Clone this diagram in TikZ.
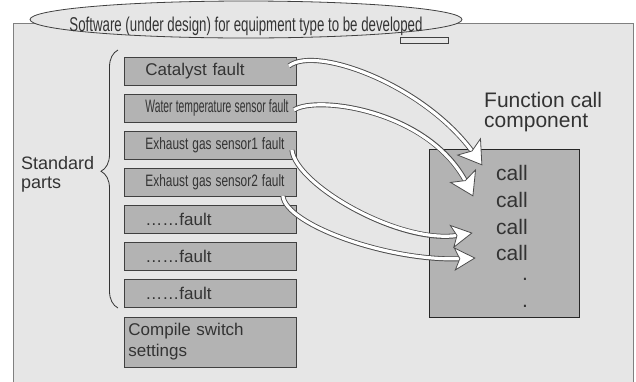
\documentclass[tikz,border=0pt]{standalone}
\usepackage{fontspec}
\usepackage{graphicx}
\setmainfont{Liberation Sans}
\usetikzlibrary{calc,shapes.geometric,decorations.pathreplacing,decorations.markings}

\definecolor{panelgray}{HTML}{E6E6E6}
\definecolor{boxgray}{HTML}{B3B3B3}
\definecolor{inkgray}{HTML}{333333}
\definecolor{edgegray}{HTML}{404040}
\definecolor{framegray}{HTML}{808080}
\definecolor{arrowline}{HTML}{4D4D4D}

% squeeze a text horizontally to a given width, keeping its height
\newcommand\squeezeto[3]{\resizebox{#1}{\height}{\fontsize{#2}{#2}\selectfont #3}}

\begin{document}
\begin{tikzpicture}[x=1bp,y=-1bp,
  every node/.style={text=inkgray},
  faultbox/.style={draw=edgegray, line width=0.9bp, fill=boxgray,
    minimum height=28bp, inner xsep=0pt, inner ysep=0pt, text width=172bp,
    align=left, anchor=west, font=\fontsize{17bp}{20bp}\selectfont,
    execute at begin node={\hspace*{21bp}}},
  settingbox/.style={draw=edgegray, line width=0.9bp, fill=boxgray,
    minimum height=50bp, inner xsep=4bp, text width=164bp,
    align=left, anchor=west, font=\fontsize{17bp}{21bp}\selectfont},
  calltext/.style={anchor=west, inner sep=0pt, font=\fontsize{21bp}{21bp}\selectfont},
  hollowhead/.style n args={2}{
    decoration={markings, mark=at position 0.999 with {
      \draw[arrowline, fill=white, line width=0.8bp, line join=miter]
        (0,0) -- (-#1,#2) -- (-#1+5,0) -- (-#1,-#2) -- cycle;}}},
  hollowarrow/.style={
    preaction={draw=arrowline, line width=5bp, shorten >=14bp},
    preaction={draw=white, line width=3.2bp, shorten >=13bp},
    postaction={decorate}},
]
\useasboundingbox (0,0) rectangle (636,381);

% background panel
\fill[panelgray] (13,23) rectangle (633,390);
\draw[framegray, line width=1bp] (13,390) -- (13,23) -- (633,23) -- (633,390);

% title ellipse
\draw[edgegray, line width=0.7bp, fill=panelgray] (400,37) rectangle (448,43);
\node[ellipse, draw=edgegray, line width=0.8bp, fill=panelgray, inner sep=0pt,
      minimum width=432bp, minimum height=37bp] (title) at (246,19.5) {};
\node[inner sep=0pt, anchor=base] (titletext) at (246,31.5)
  {\squeezeto{353bp}{20bp}{Software (under design) for equipment type to be developed}};

% standard parts
\node[faultbox] (b1) at (124,71) {Catalyst fault};
\node[faultbox] (b2) at (124,108) {\squeezeto{143bp}{18bp}{Water temperature sensor fault}};
\node[faultbox] (b3) at (124,145) {\squeezeto{139bp}{16.5bp}{Exhaust gas sensor1 fault}};
\node[faultbox] (b4) at (124,182) {\squeezeto{139bp}{16.5bp}{Exhaust gas sensor2 fault}};
\node[faultbox] (b5) at (124,219) {……fault};
\node[faultbox] (b6) at (124,256) {……fault};
\node[faultbox] (b7) at (124,293) {……fault};
\node[settingbox] (b8) at (124,342) {Compile switch\\settings};

\draw[inkgray, line width=0.8bp, decorate, decoration={brace, amplitude=17bp, aspect=0.53}]
  (118,308) -- (118,50);
\node[anchor=west, inner sep=0pt, align=left, font=\fontsize{18bp}{19bp}\selectfont] (std) at (21,174)
  {Standard\\parts};

% function call component
\node[anchor=west, inner sep=0pt, align=left, font=\fontsize{21bp}{20bp}\selectfont] (fclabel) at (484,112)
  {Function call\\component};
\node[draw=black!85, line width=0.9bp, fill=boxgray, minimum width=150bp, minimum height=168bp,
      inner sep=0pt] (fc) at (504,233) {};
\node[calltext] (c1) at (496,173) {call};
\node[calltext] (c2) at (496,200) {call};
\node[calltext] (c3) at (496,227) {call};
\node[calltext] (c4) at (496,253) {call};
\node[inner sep=0pt, font=\fontsize{21bp}{21bp}\selectfont] (d1) at (525,279) {.};
\node[inner sep=0pt, font=\fontsize{21bp}{21bp}\selectfont] (d2) at (525,306) {.};

% calls from the standard parts
\path[hollowarrow, hollowhead={22}{14}]
  ($(b1.east)+(-8,-5)$) .. controls +(27,-21) and +(-57,-80) .. ($(c1.west)+(-14,-8)$);
\path[hollowarrow, hollowhead={22}{14}]
  ($(b2.east)+(-3,2)$) .. controls +(22,-15) and +(-43,-86) .. ($(c2.west)+(-23,-4)$);
\path[hollowarrow, hollowhead={20}{11}]
  ($(b3.east)+(-5,5)$) .. controls +(4,35) and +(-72,12) .. ($(c3.west)+(-24,6)$);
\path[hollowarrow, hollowhead={20}{11}]
  ($(b4.east)+(-14,14)$) .. controls +(3,29) and +(-85,4) .. ($(c4.west)+(-21,5)$);
\end{tikzpicture}
\end{document}
